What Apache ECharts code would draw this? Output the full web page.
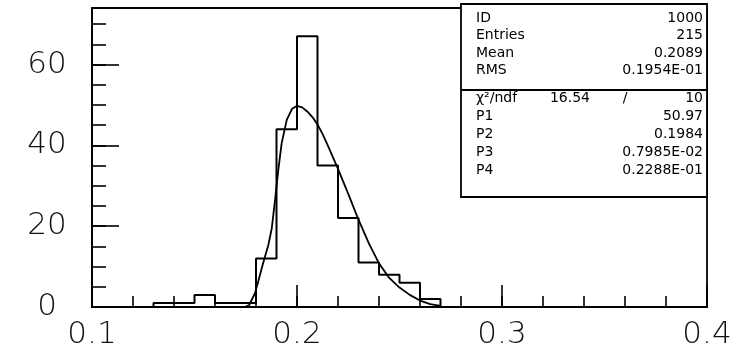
<!DOCTYPE html>
<html><head><meta charset="utf-8">
<script src="https://cdn.jsdelivr.net/npm/echarts@6/dist/echarts.min.js"></script>
<style>html,body{margin:0;padding:0;background:#fff}#c{width:741px;height:353px}</style>
</head><body><div id="c"></div>
<script>
// ---- data ----
const binLow = [0.13, 0.14, 0.15, 0.16, 0.17, 0.18, 0.19, 0.20, 0.21, 0.22, 0.23, 0.24, 0.25, 0.26];
const binWidth = 0.01;
const counts = [1, 1, 3, 1, 1, 12, 44, 67, 35, 22, 11, 8, 6, 2];
// fitted curve
const fitX = [0.1746, 0.1767, 0.1795, 0.1811, 0.1828, 0.1844, 0.186, 0.1877, 0.1893, 0.1909, 0.1925, 0.195, 0.1975, 0.2,
              0.2025, 0.205, 0.2075, 0.21, 0.2125, 0.215, 0.2175, 0.22, 0.225, 0.23, 0.235, 0.24, 0.245, 0.25, 0.255, 0.26, 0.265, 0.27];
const fitY = [0.0, 0.5, 3.4, 6.3, 9.6, 12.5, 15.3, 19.5, 26.5, 34.0, 40.5, 46.3, 49.0, 49.8,
              49.4, 48.4, 47.0, 45.2, 42.8, 40.0, 37.1, 34.2, 28.0, 21.6, 15.8, 10.8, 7.2, 4.8, 3.0, 1.6, 0.7, 0.3];
const xRange = [0.1, 0.4];
const yRange = [0, 74];
const statsLabels = ['ID', 'Entries', 'Mean', 'RMS'];
const statsValues = ['1000', '215', '0.2089', '0.1954E-01'];
const chi2Label = 'χ²/ndf';
const chi2Value = '16.54';
const ndfValue = '10';
const fitLabels = ['P1', 'P2', 'P3', 'P4'];
const fitValues = ['50.97', '0.1984', '0.7985E-02', '0.2288E-01'];

// ---- build ----
const histPts = [[binLow[0], 0]];
for (let i = 0; i < binLow.length; i++) histPts.push([binLow[i], counts[i]]);
histPts.push([binLow[binLow.length - 1] + binWidth, 0]);
const fitPts = fitX.map((x, i) => [x, fitY[i]]);

const labelFont = {fontFamily: 'DejaVu Sans', fontWeight: 200, fontSize: 31, color: '#111'};
const boxFont = 'normal 14px "DejaVu Sans"';

const box = {x: 461, y: 4, w: 246, h: 193};
const rowsTop = [18, 35.5, 53, 70.5];
const rowsBot = [98, 116, 134, 152, 170];
const gElems = [];
gElems.push({type: 'rect', shape: {x: box.x, y: box.y, width: box.w, height: box.h},
  style: {fill: '#fff', stroke: '#000', lineWidth: 1.8}, z: 100});
gElems.push({type: 'line', shape: {x1: box.x, y1: 90, x2: box.x + box.w, y2: 90},
  style: {stroke: '#000', lineWidth: 1.8}, z: 101});
function txt(s, x, y, align) {
  gElems.push({type: 'text', x: x, y: y, z: 102,
    style: {text: s, font: boxFont, fill: '#000', align: align, verticalAlign: 'middle'}});
}
statsLabels.forEach((s, i) => { txt(s, 476, rowsTop[i], 'left'); txt(statsValues[i], 703, rowsTop[i], 'right'); });
txt(chi2Label, 476, rowsBot[0], 'left');
txt(chi2Value, 590, rowsBot[0], 'right');
txt('/', 625, rowsBot[0], 'center');
txt(ndfValue, 703, rowsBot[0], 'right');
fitLabels.forEach((s, i) => { txt(s, 476, rowsBot[i + 1], 'left'); txt(fitValues[i], 703, rowsBot[i + 1], 'right'); });

const chart = echarts.init(document.getElementById('c'), null, {renderer: 'canvas'});
chart.setOption({
  animation: false,
  backgroundColor: '#fff',
  grid: {left: 92, right: 34, top: 8, bottom: 46, show: true, borderColor: '#000', borderWidth: 1.8, backgroundColor: 'transparent'},
  xAxis: [
    {type: 'value', position: 'bottom', min: xRange[0], max: xRange[1], interval: 0.1,
     axisLine: {show: true, lineStyle: {color: '#000', width: 1.8}},
     axisTick: {show: true, inside: true, length: 22, lineStyle: {color: '#000', width: 1.6}},
     axisLabel: Object.assign({margin: 12, formatter: v => (Math.round(v * 10) / 10).toFixed(1)}, labelFont),
     splitLine: {show: false}},
    {type: 'value', position: 'bottom', min: xRange[0], max: xRange[1], interval: 0.02,
     axisLine: {show: false},
     axisTick: {show: true, inside: true, length: 11, lineStyle: {color: '#000', width: 1.6}},
     axisLabel: {show: false}, splitLine: {show: false}}
  ],
  yAxis: [
    {type: 'value', position: 'left', min: yRange[0], max: yRange[1], interval: 20,
     axisLine: {show: true, lineStyle: {color: '#000', width: 1.8}},
     axisTick: {show: true, inside: true, length: 27, lineStyle: {color: '#000', width: 1.6}},
     axisLabel: Object.assign({margin: 45, align: 'center', showMaxLabel: false}, labelFont),
     splitLine: {show: false}},
    {type: 'value', position: 'left', min: yRange[0], max: yRange[1], interval: 5,
     axisLine: {show: false},
     axisTick: {show: true, inside: true, length: 14, lineStyle: {color: '#000', width: 1.6}},
     axisLabel: {show: false}, splitLine: {show: false}}
  ],
  series: [
    {type: 'line', xAxisIndex: 0, yAxisIndex: 0, data: histPts, step: 'end', showSymbol: false, symbol: 'none',
     lineStyle: {color: '#000', width: 2}, z: 3},
    {type: 'line', xAxisIndex: 0, yAxisIndex: 0, data: fitPts, smooth: false, showSymbol: false, symbol: 'none',
     lineStyle: {color: '#000', width: 1.8, join: 'round'}, z: 4}
  ],
  graphic: {elements: gElems}
});
</script></body></html>
